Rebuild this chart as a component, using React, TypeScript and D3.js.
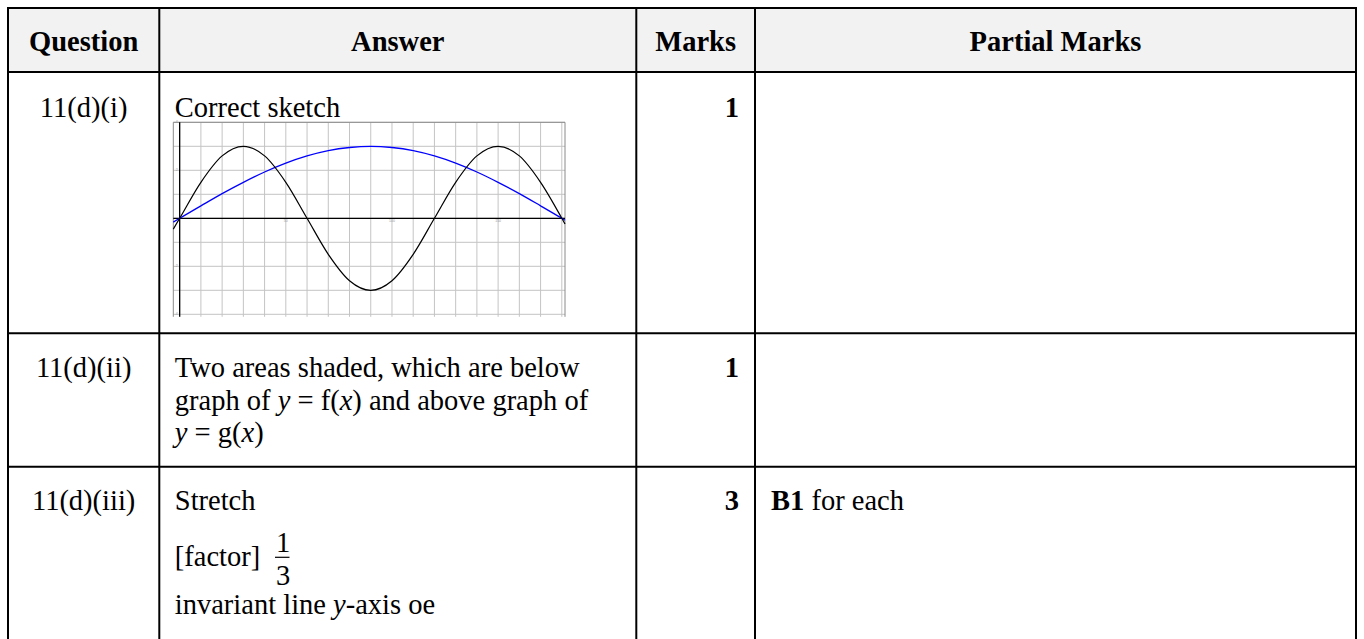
import * as d3 from "d3";
import { useMemo } from "react";

// table content
const columns = ["Question", "Answer", "Marks", "Partial Marks"];
const questions = ["11(d)(i)", "11(d)(ii)", "11(d)(iii)"];
const marks = [1, 1, 3];

// sketch: readings of the two curves at each degree sample
const sampleX = [-3, 0, 10, 20, 30, 40, 50, 60, 70, 80, 90, 100, 110, 120, 130, 140, 150, 160, 170, 180, 181.5];
const fValues = [-0.45, 0, 1.5, 2.6, 3, 2.6, 1.5, 0, -1.5, -2.6, -3, -2.6, -1.5, 0, 1.5, 2.6, 3, 2.6, 1.5, 0, -0.24];
const gValues = [-0.16, 0, 0.52, 1.03, 1.5, 1.93, 2.3, 2.6, 2.82, 2.95, 3, 2.95, 2.82, 2.6, 2.3, 1.93, 1.5, 1.03, 0.52, 0, -0.08];
const xLabels = [50, 100, 150];
const yLabels = [4, 2, -2, -4];

const W = 1364;
const H = 639;
const font = "'Liberation Serif', 'Times New Roman', serif";
const fs = 28.5;

// table layout
const colX = [8, 159.3, 636.3, 755, 1356];
const rowY = [8, 72, 333.3, 466.7, H];

export default function App() {
  const plot = { left: 173.3, right: 565, top: 122.3, bottom: 314.3 };

  const x = useMemo(
    () => d3.scaleLinear().domain([-3, 181.5]).range([plot.left, plot.right]),
    []
  );
  const y = useMemo(
    () => d3.scaleLinear().domain([-4, 4]).range([plot.bottom, plot.top]),
    []
  );

  const line = d3
    .line<number>()
    .x((_, i) => x(sampleX[i]))
    .y((d) => y(d))
    .curve(d3.curveMonotoneX);

  const xGrid = x.ticks(18).filter((t) => t >= 0 && t <= 180);
  const yGrid = y.ticks(8);

  const colCenter = (i: number) => (colX[i] + colX[i + 1]) / 2;
  const textX = colX[1] + 15.5;
  const markX = colX[3] - 16;

  const rowBase = [117, 377, 510];
  const fracX = 283;

  return (
    <svg
      width={W}
      height={H}
      style={{ position: "absolute", left: 0, top: 0, background: "#fff" }}
      fontFamily={font}
      fontSize={fs}
    >
      {/* header background */}
      <rect x={colX[0]} y={rowY[0]} width={colX[4] - colX[0]} height={rowY[1] - rowY[0]} fill="#f2f2f2" />

      {columns.map((c, i) => (
        <text key={c} x={colCenter(i)} y={51} textAnchor="middle" fontWeight="bold">
          {c}
        </text>
      ))}

      {questions.map((q, i) => (
        <text key={q} x={colCenter(0)} y={rowBase[i]} textAnchor="middle">
          {q}
        </text>
      ))}

      {marks.map((m, i) => (
        <text key={i} x={markX} y={rowBase[i]} textAnchor="end" fontWeight="bold">
          {m}
        </text>
      ))}

      {/* answers */}
      <text x={textX} y={rowBase[0]}>Correct sketch</text>

      <text x={textX} y={rowBase[1]}>Two areas shaded, which are below</text>
      <text x={textX} y={rowBase[1] + 32.5}>
        graph of <tspan fontStyle="italic">y</tspan> = f(<tspan fontStyle="italic">x</tspan>) and above graph of
      </text>
      <text x={textX} y={rowBase[1] + 65}>
        <tspan fontStyle="italic">y</tspan> = g(<tspan fontStyle="italic">x</tspan>)
      </text>

      <text x={textX} y={rowBase[2]}>Stretch</text>
      <text x={textX} y={566}>[factor]</text>
      <text x={fracX} y={551.5} textAnchor="middle">1</text>
      <line x1={275} x2={289.5} y1={557.3} y2={557.3} stroke="#000" strokeWidth={1.2} />
      <text x={fracX} y={585} textAnchor="middle">3</text>
      <text x={textX} y={613.5}>
        invariant line <tspan fontStyle="italic">y</tspan>-axis oe
      </text>

      <text x={colX[3] + 16} y={rowBase[2]}>
        <tspan fontWeight="bold">B1</tspan> for each
      </text>

      {/* sketch */}
      <g>
        {yGrid.map((t) => (
          <line key={"h" + t} x1={plot.left} x2={plot.right} y1={y(t)} y2={y(t)} stroke="#c4c4c4" strokeWidth={1} />
        ))}
        {xGrid.map((t) => (
          <line key={"v" + t} x1={x(t)} x2={x(t)} y1={plot.top} y2={plot.bottom + 2.5} stroke="#c4c4c4" strokeWidth={1} />
        ))}
        <line x1={plot.left} x2={plot.left} y1={plot.top} y2={plot.bottom + 2.5} stroke="#8a8a8a" strokeWidth={1} />
        <line x1={plot.left} x2={plot.right} y1={plot.top} y2={plot.top} stroke="#8a8a8a" strokeWidth={1} />
        <line x1={plot.right} x2={plot.right} y1={plot.top} y2={plot.bottom + 2.5} stroke="#8a8a8a" strokeWidth={1} />

        {xLabels.map((t) => (
          <text key={"xl" + t} x={x(t)} y={y(0) + 4} textAnchor="middle" fontSize={3.5} fill="#999" fontFamily="Arial">
            {t}
          </text>
        ))}
        {yLabels.map((t) => (
          <text key={"yl" + t} x={x(0) - 2} y={y(t) + 1} textAnchor="end" fontSize={3.5} fill="#999" fontFamily="Arial">
            {t}
          </text>
        ))}

        <line x1={x(0)} x2={x(0)} y1={plot.top} y2={plot.bottom + 2.5} stroke="#000" strokeWidth={1.3} />
        <line x1={plot.left} x2={plot.right} y1={y(0)} y2={y(0)} stroke="#000" strokeWidth={1.3} />

        <path d={line(gValues) ?? ""} fill="none" stroke="#0000ff" strokeWidth={1.3} />
        <path d={line(fValues) ?? ""} fill="none" stroke="#000" strokeWidth={1.2} />
      </g>

      {/* table rules */}
      {rowY.slice(0, 4).map((ry, i) => (
        <line key={"r" + i} x1={colX[0] - 1} x2={colX[4] + 1} y1={ry} y2={ry} stroke="#000" strokeWidth={2} />
      ))}
      {colX.map((cx, i) => (
        <line key={"c" + i} x1={cx} x2={cx} y1={rowY[0] - 1} y2={H} stroke="#000" strokeWidth={2} />
      ))}
    </svg>
  );
}
